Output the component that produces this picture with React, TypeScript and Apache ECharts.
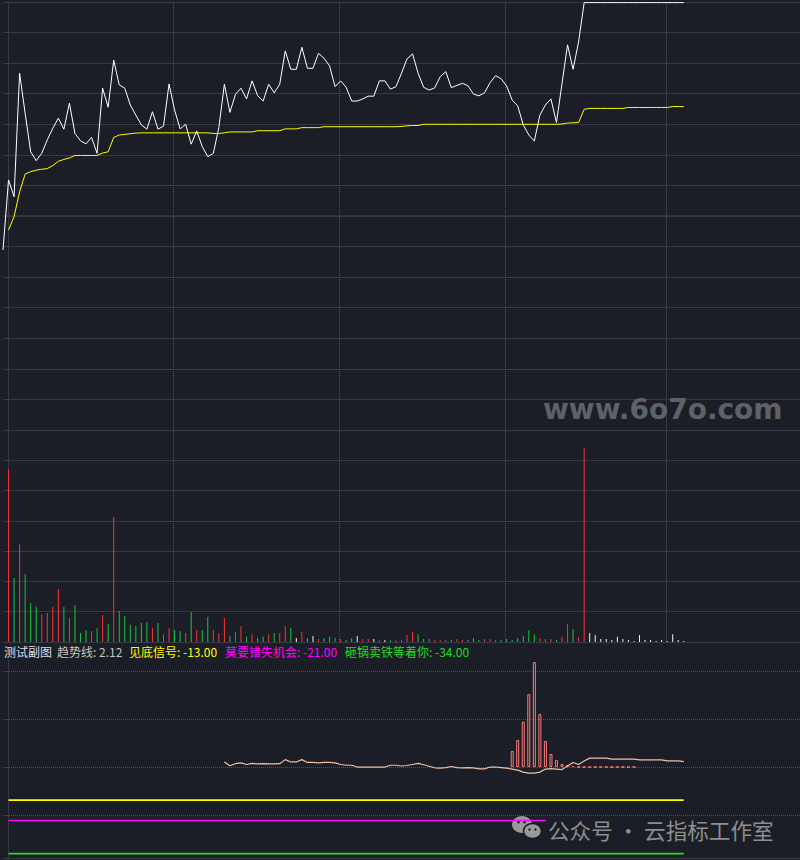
import React, { useEffect, useRef } from "react";
import * as echarts from "echarts";

const BG = "#1b1e26";
const GRID = "#353a46";
const DOT = "#4d525d";

// 分时价格 (涨跌幅, 第一个点是开盘 t = -1, 之后每格 2 分钟)
const priceLine = [
  -1.11, 1.18, 0.63, 4.67, 3.36, 2.1, 1.81, 2.05, 2.49, 2.87, 3.2, 2.84, 3.69, 2.7, 2.46, 2.36, 2.57, 2.05, 4.18,
  3.56, 5.1, 4.29, 4.18, 3.63, 3.3, 2.98, 2.84, 3.41, 2.84, 2.94, 4.32, 3.47, 2.85, 3.0, 2.35, 2.78, 2.27, 1.94, 2.05,
  2.89, 4.31, 3.39, 3.98, 4.18, 3.83, 4.42, 3.94, 3.76, 4.31, 4.03, 4.31, 5.4, 4.8, 4.8, 5.52, 4.83, 4.83, 5.32, 5.16,
  4.91, 4.23, 4.42, 4.21, 3.76, 3.76, 3.83, 3.92, 3.92, 4.42, 4.42, 4.15, 4.23, 4.67, 5.14, 5.3, 4.67, 4.21, 4.12, 4.19,
  4.56, 4.72, 4.2, 4.27, 4.34, 4.26, 3.99, 3.93, 4.03, 4.36, 4.59, 4.49, 4.25, 3.79, 3.6, 2.98, 2.65, 2.45, 3.3, 3.63,
  3.83, 3.06, 4.33, 5.6, 4.8, 5.7, 6.98, 6.98, 6.98, 6.98, 6.98, 6.98, 6.98, 6.98, 6.98, 6.98, 6.98, 6.98, 6.98, 6.98,
  6.98, 6.98, 6.98, 6.98, 6.98,
];

// 均价线 (t = 0..122)
const avgLine = [
  -0.46, -0.02, 0.79, 1.37, 1.45, 1.5, 1.53, 1.55, 1.65, 1.79, 1.85, 1.9, 1.98, 1.98, 1.98, 1.98, 1.98, 2.06, 2.1,
  2.57, 2.65, 2.67, 2.69, 2.71, 2.72, 2.72, 2.72, 2.72, 2.72, 2.72, 2.72, 2.72, 2.72, 2.72, 2.72, 2.72, 2.72, 2.7, 2.7,
  2.72, 2.75, 2.75, 2.75, 2.75, 2.75, 2.79, 2.79, 2.79, 2.79, 2.79, 2.85, 2.85, 2.85, 2.89, 2.89, 2.89, 2.89, 2.92,
  2.92, 2.92, 2.92, 2.92, 2.92, 2.92, 2.92, 2.92, 2.92, 2.92, 2.92, 2.92, 2.92, 2.93, 2.95, 2.96, 2.96, 3.0, 3.0, 3.0,
  3.0, 3.0, 3.0, 3.0, 3.0, 3.0, 3.0, 3.0, 3.0, 3.0, 3.0, 3.0, 3.0, 3.0, 3.0, 3.0, 3.0, 3.0, 3.0, 3.0, 3.0, 3.0, 3.01,
  3.04, 3.05, 3.06, 3.49, 3.52, 3.52, 3.52, 3.52, 3.52, 3.52, 3.52, 3.55, 3.55, 3.55, 3.55, 3.55, 3.55, 3.55, 3.55,
  3.58, 3.58, 3.58,
];

// 成交量 (t = 0..122) 和方向 1 涨 / -1 跌 / 0 平
const volume = [
  5.7, 2.11, 3.23, 2.24, 1.29, 1.16, 0.92, 0.96, 1.16, 1.75, 1.16, 0.79, 1.22, 0.3, 0.4, 0.36, 0.46, 0.89, 0.59, 4.13,
  1.02, 0.86, 0.56, 0.53, 0.63, 0.66, 0.46, 0.63, 0.26, 0.46, 0.4, 0.36, 0.3, 0.99, 0.4, 0.4, 0.83, 0.4, 0.3, 0.79,
  0.2, 0.33, 0.53, 0.17, 0.26, 0.13, 0.17, 0.26, 0.3, 0.3, 0.53, 0.46, 0.13, 0.33, 0.13, 0.2, 0.1, 0.13, 0.17, 0.13,
  0.1, 0.07, 0.13, 0.2, 0.1, 0.1, 0.1, 0.07, 0.07, 0.07, 0.07, 0.07, 0.23, 0.33, 0.26, 0.1, 0.1, 0.07, 0.07, 0.07,
  0.07, 0.1, 0.07, 0.07, 0.13, 0.07, 0.1, 0.1, 0.07, 0.07, 0.1, 0.07, 0.13, 0.2, 0.4, 0.26, 0.13, 0.1, 0.1, 0.07,
  0.17, 0.59, 0.43, 0.17, 6.4, 0.3, 0.23, 0.1, 0.1, 0.07, 0.17, 0.1, 0.07, 0.03, 0.23, 0.07, 0.07, 0.03, 0.07, 0.03,
  0.26, 0.07, 0.03,
];
const volDir = [
  1, -1, 1, -1, -1, -1, 1, 1, 1, 1, -1, 1, -1, -1, -1, 1, -1, 1, -1, 1, -1, -1, -1, -1, -1, -1, 1, -1, 1, 1, -1, -1, 1,
  -1, 1, -1, -1, 1, 1, 1, -1, 1, 1, -1, 1, -1, -1, 1, -1, 1, 1, -1, 0, 1, -1, 0, 1, -1, -1, -1, 1, -1, -1, 0, 1, 1, 0,
  1, 0, -1, 1, 1, 1, 1, -1, -1, -1, 1, 1, 1, -1, 1, 1, -1, -1, -1, 1, 1, 1, -1, -1, -1, -1, -1, -1, -1, 1, 1, 1, -1, 1,
  1, -1, 1, 1, 0, 0, 0, 0, 0, 0, 0, 0, 0, 0, 0, 0, 0, 0, 0, 0, 0, 0,
];

// 副图: 趋势线 (从 t = 39 开始) 和信号柱 (从 t = 91 开始)
const trendStart = 39;
const trendLine = [
  2.0, 0.5, 1.3, 1.6, 1.0, 1.4, 1.2, 1.3, 1.2, 1.2, 1.3, 2.9, 2.0, 2.0, 2.9, 1.8, 1.8, 1.6, 1.8, 1.8, 1.6, 1.0, 0.7,
  0.7, 0.0, 0.0, 0.0, 0.0, 0.0, 0.0, 0.7, 0.7, 0.4, 0.6, 1.0, 1.4, 0.9, 0.3, -0.3, -0.4, -0.2, 0.2, -0.2, -0.3, -0.2,
  -0.3, -0.7, -0.7, 0.0, 0.0, -0.2, -0.4, -0.8, -1.2, -2.0, -2.4, -2.4, -2.0, -0.8, -0.6, -0.8, -1.0, 0.4, 1.8, 1.0,
  2.4, 3.5, 3.5, 3.5, 3.5, 3.1, 3.1, 3.1, 3.1, 3.1, 2.8, 2.8, 2.8, 2.8, 2.8, 2.4, 2.4, 2.4, 2.12,
];
const signalStart = 91;
const signalBars = [6.3, 10.6, 17.8, 28.6, 41.2, 20.8, 10.2, 5.1, 2.7, 1.2, 0.8, 0.4, 0, 0, 0, 0, 0, 0, 0, 0, 0, 0, 0];

const levelNames = ["见底信号", "莫要错失机会", "砸锅卖铁等着你"];
const levelValues = [-13, -21, -34];
const levelColors = ["#ffff00", "#ff00ff", "#22dd22"];

// 时间分隔线 (格) 与副图虚线刻度
const hourLines = [29.7, 59.7, 89.7];
const closeLine = 118.8;
const subGridLines = [37.6, 18.8, 0, -18.8];

const dirColor = (d: number) => (d > 0 ? "#ff3232" : d < 0 ? "#14c83c" : "#f0f0f0");

const vLineData = () => [
  ...hourLines.map((x) => ({ xAxis: x, lineStyle: { color: DOT, type: "dotted", width: 1 } })),
  { xAxis: closeLine, lineStyle: { color: GRID, type: "solid", width: 1 } },
];

const markBase = {
  silent: true,
  symbol: "none",
  z: 1,
  animation: false,
  label: { show: false },
};

export default function App() {
  const ref = useRef<HTMLDivElement>(null);

  useEffect(() => {
    document.body.style.margin = "0";
    if (!ref.current) return;
    const chart = echarts.init(ref.current, null, { renderer: "svg" });

    const xAxisBase = { type: "value", min: -1, max: 143, show: false };
    const yBase = {
      type: "value",
      axisLine: { show: true, lineStyle: { color: GRID } },
      axisTick: { show: false },
      axisLabel: { show: false },
    };

    const lastTrend = trendLine[trendLine.length - 1];
    const lastIdx = avgLine.length - 1;
    const font = "Noto Sans CJK SC";

    const legendItems = [
      { x: 4, text: "测试副图", color: "#d8dde6" },
      { x: 57, text: `趋势线: ${lastTrend.toFixed(2)}`, color: "#c9c4c0" },
      ...levelNames.map((n, i) => ({
        x: [129, 225, 345][i],
        text: `${n}: ${levelValues[i].toFixed(2)}`,
        color: levelColors[i],
      })),
    ];

    const option: any = {
      animation: false,
      backgroundColor: BG,
      grid: [
        { left: 3, right: 0, top: 2, height: 428 },
        { left: 3, right: 0, top: 430, height: 212 },
        { left: 3, right: 0, top: 660, height: 198 },
      ],
      xAxis: [
        { ...xAxisBase, gridIndex: 0 },
        { ...xAxisBase, gridIndex: 1 },
        {
          ...xAxisBase,
          gridIndex: 2,
          show: true,
          axisLine: { show: true, onZero: false, lineStyle: { color: GRID } },
          axisTick: { show: false },
          axisLabel: { show: false },
          splitLine: { show: false },
        },
      ],
      yAxis: [
        { ...yBase, gridIndex: 0, min: -7, max: 7, interval: 1, splitLine: { lineStyle: { color: GRID } } },
        { ...yBase, gridIndex: 1, min: 0, max: 7, interval: 1, splitLine: { lineStyle: { color: GRID } } },
        { ...yBase, gridIndex: 2, min: -35.7, max: 42, splitLine: { show: false } },
      ],
      series: [
        {
          type: "line",
          xAxisIndex: 0,
          yAxisIndex: 0,
          data: avgLine.map((v, i) => [i, v]),
          symbol: "none",
          lineStyle: { color: "#ffff00", width: 1 },
          z: 2,
          markLine: {
            ...markBase,
            data: [...vLineData(), { yAxis: 0, lineStyle: { color: GRID, type: "solid", width: 1.6 } }],
          },
        },
        {
          type: "line",
          xAxisIndex: 0,
          yAxisIndex: 0,
          data: priceLine.map((v, i) => [i - 1, v]),
          symbol: "none",
          lineStyle: { color: "#ffffff", width: 1 },
          z: 3,
        },
        {
          type: "bar",
          xAxisIndex: 1,
          yAxisIndex: 1,
          barWidth: 1,
          data: volume.map((v, i) => ({ value: [i, v], itemStyle: { color: dirColor(volDir[i]) } })),
          markLine: { ...markBase, data: vLineData() },
        },
        {
          type: "bar",
          xAxisIndex: 2,
          yAxisIndex: 2,
          barWidth: 3,
          data: signalBars.map((v, k) => [signalStart + k, v]),
          itemStyle: { color: "rgba(0,0,0,0)", borderColor: "#ff7b7b", borderWidth: 1 },
        },
        {
          type: "line",
          xAxisIndex: 2,
          yAxisIndex: 2,
          data: trendLine.map((v, k) => [trendStart + k, v]),
          symbol: "none",
          lineStyle: { color: "#efbfaa", width: 1.2 },
          z: 4,
          markLine: {
            ...markBase,
            data: subGridLines.map((y) => ({ yAxis: y, lineStyle: { color: DOT, type: "dotted", width: 1 } })),
          },
        },
        ...levelValues.map((v, i) => ({
          type: "line",
          xAxisIndex: 2,
          yAxisIndex: 2,
          data: [
            [0, v],
            [lastIdx, v],
          ],
          symbol: "none",
          lineStyle: { color: levelColors[i], width: 1.6 },
          z: 3,
        })),
      ],
      graphic: [
        ...legendItems.map((it) => ({
          type: "text",
          x: it.x,
          y: 651,
          z: 100,
          style: { text: it.text, fill: it.color, fontSize: 12, fontFamily: font, verticalAlign: "middle" },
        })),
        {
          type: "text",
          x: 543,
          y: 409,
          z: 50,
          style: {
            text: "www.6o7o.com",
            fill: "#5e6168",
            fontSize: 28,
            fontWeight: "bold",
            fontFamily: "DejaVu Sans",
            verticalAlign: "middle",
          },
        },
        {
          type: "rect",
          z: 50,
          shape: { x: 546, y: 818, width: 230, height: 22 },
          style: { fill: BG },
        },
        {
          type: "group",
          z: 60,
          children: [
            { type: "ellipse", shape: { cx: 522, cy: 824.5, rx: 10, ry: 8.5 }, style: { fill: "#9a9a9a" } },
            {
              type: "ellipse",
              shape: { cx: 532.5, cy: 831, rx: 9, ry: 7.5 },
              style: { fill: "#9a9a9a", stroke: BG, lineWidth: 1.5 },
            },
            { type: "circle", shape: { cx: 518.5, cy: 822, r: 1.4 }, style: { fill: BG } },
            { type: "circle", shape: { cx: 524.5, cy: 822, r: 1.4 }, style: { fill: BG } },
            { type: "circle", shape: { cx: 529.5, cy: 829.5, r: 1.2 }, style: { fill: BG } },
            { type: "circle", shape: { cx: 535.5, cy: 829.5, r: 1.2 }, style: { fill: BG } },
          ],
        },
        {
          type: "text",
          x: 548,
          y: 829,
          z: 60,
          style: {
            text: "公众号 · 云指标工作室",
            fill: "#8e8e8e",
            fontSize: 21.6,
            fontFamily: font,
            verticalAlign: "middle",
          },
        },
      ],
    };

    chart.setOption(option);
    return () => chart.dispose();
  }, []);

  return <div ref={ref} style={{ width: 800, height: 860, background: BG }} />;
}
